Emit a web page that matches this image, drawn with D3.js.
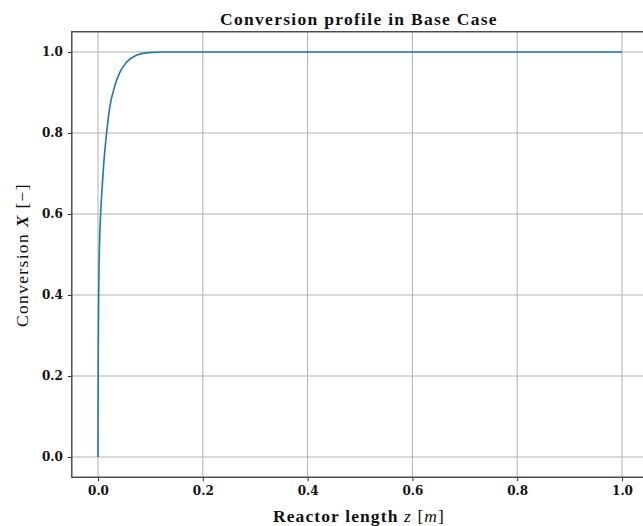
<!DOCTYPE html>
<html>
<head>
<meta charset="utf-8">
<script src="https://cdn.jsdelivr.net/npm/d3@7"></script>
<style>
  html, body { margin: 0; padding: 0; background: #fff; }
  svg { display: block; }
  .tick text { font-family: "DejaVu Serif", serif; font-weight: bold; }
</style>
</head>
<body>
<div id="chart"></div>
<script>
// conversion profile along the reactor (base case)
var reactor_z = [0, 0.0002, 0.0006, 0.0013, 0.0019, 0.0032, 0.0052, 0.0084, 0.0110,
                 0.0160, 0.0223, 0.0320, 0.0414, 0.0540, 0.0730, 0.0954, 0.1240,
                 0.2, 0.4, 0.6, 0.8, 1.0];
var conversion = [0, 0.12, 0.28, 0.40, 0.462, 0.540, 0.605, 0.675, 0.725,
                  0.795, 0.862, 0.916, 0.949, 0.974, 0.992, 0.9985, 1.0,
                  1.0, 1.0, 1.0, 1.0, 1.0];
var x_ticks = [0, 0.2, 0.4, 0.6, 0.8, 1.0];
var y_ticks = [0, 0.2, 0.4, 0.6, 0.8, 1.0];

var width = 643, height = 526;
var plot = {left: 71.8, right: 648.2, top: 31.75, bottom: 477.25};

var svg = d3.select('#chart')
  .append('svg')
  .attr('width', width)
  .attr('height', height);

var x = d3.scaleLinear().domain([-0.05, 1.05]).range([plot.left, plot.right]);
var y = d3.scaleLinear().domain([-0.05, 1.05]).range([plot.bottom, plot.top]);

// grid
var grid = svg.append('g').attr('class', 'grid');
grid.selectAll('.vgrid')
  .data(x_ticks)
  .enter().append('line')
  .attr('x1', function(d){ return x(d); })
  .attr('x2', function(d){ return x(d); })
  .attr('y1', plot.top)
  .attr('y2', plot.bottom)
  .attr('stroke', '#b0b0b0')
  .attr('stroke-width', 1);
grid.selectAll('.hgrid')
  .data(y_ticks)
  .enter().append('line')
  .attr('x1', plot.left)
  .attr('x2', plot.right)
  .attr('y1', function(d){ return y(d); })
  .attr('y2', function(d){ return y(d); })
  .attr('stroke', '#b0b0b0')
  .attr('stroke-width', 1);

// curve
var line = d3.line()
  .x(function(d){ return x(d[0]); })
  .y(function(d){ return y(d[1]); })
  .curve(d3.curveMonotoneX);

svg.append('path')
  .datum(d3.zip(reactor_z, conversion))
  .attr('fill', 'none')
  .attr('stroke', '#1f77b4')
  .attr('stroke-width', 1.6)
  .attr('d', line);

// axes
var x_axis = d3.axisBottom(x)
  .tickValues(x_ticks)
  .tickFormat(d3.format('.1f'))
  .tickSize(4)
  .tickPadding(5);
var y_axis = d3.axisLeft(y)
  .tickValues(y_ticks)
  .tickFormat(d3.format('.1f'))
  .tickSize(4)
  .tickPadding(5);

var gx = svg.append('g')
  .attr('transform', 'translate(0,' + plot.bottom + ')')
  .call(x_axis);
var gy = svg.append('g')
  .attr('transform', 'translate(' + plot.left + ',0)')
  .call(y_axis);

[gx, gy].forEach(function(g){
  g.select('.domain').remove();
  g.selectAll('.tick line').attr('stroke', '#333').attr('stroke-width', 1);
  g.selectAll('.tick text').attr('fill', '#111').style('font-size', '12px');
});

// frame
svg.append('rect')
  .attr('x', plot.left)
  .attr('y', plot.top)
  .attr('width', plot.right - plot.left)
  .attr('height', plot.bottom - plot.top)
  .attr('fill', 'none')
  .attr('stroke', '#444')
  .attr('stroke-width', 1.4);

// stretch a label to a given width through letter spacing
function fit_text(sel, target){
  var node = sel.node();
  var n = node.getNumberOfChars();
  var w = node.getComputedTextLength();
  if (n > 1) sel.style('letter-spacing', ((target - w) / n).toFixed(2) + 'px');
}

var serif = '"Liberation Serif", "DejaVu Serif", serif';

var title = svg.append('text')
  .attr('x', 359)
  .attr('y', 25)
  .attr('text-anchor', 'middle')
  .style('font-family', serif)
  .style('font-weight', 'bold')
  .style('font-size', '17.5px')
  .attr('fill', '#111')
  .text('Conversion profile in Base Case');
fit_text(title, 278);

var xlab = svg.append('text')
  .attr('x', 359)
  .attr('y', 522)
  .attr('text-anchor', 'middle')
  .style('font-family', serif)
  .style('font-size', '17.5px')
  .attr('fill', '#111');
xlab.append('tspan').style('font-weight', 'bold').text('Reactor length ');
xlab.append('tspan').style('font-style', 'italic').text('z');
xlab.append('tspan').text(' [');
xlab.append('tspan').style('font-style', 'italic').text('m');
xlab.append('tspan').text(']');
fit_text(xlab, 172);

var ylab = svg.append('text')
  .attr('transform', 'translate(28,255) rotate(-90)')
  .attr('text-anchor', 'middle')
  .style('font-family', serif)
  .style('font-size', '17.5px')
  .attr('fill', '#111');
ylab.append('tspan').text('Conversion ');
ylab.append('tspan').style('font-weight', 'bold').style('font-style', 'italic').text('X');
ylab.append('tspan').text(' [\u2212]');
fit_text(ylab, 144);
</script>
</body>
</html>
